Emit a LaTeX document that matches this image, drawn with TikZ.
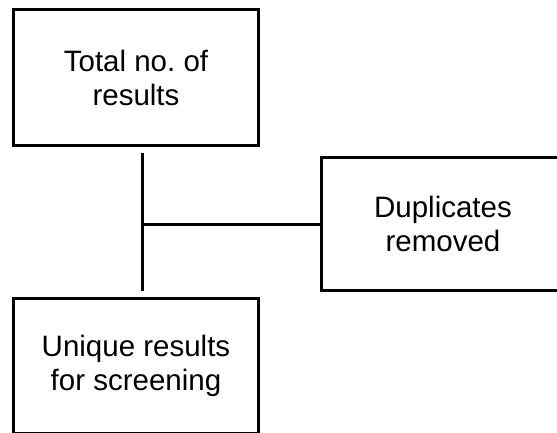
\documentclass[tikz,border=0pt]{standalone}
\usepackage{fontspec}
\setmainfont{Liberation Sans}
\usetikzlibrary{positioning}
\frenchspacing

\begin{document}
\begin{tikzpicture}[x=1pt, y=1pt,
        box/.style={draw, line width=3pt, align=center, inner sep=0pt,
          font=\fontsize{29.5}{34}\selectfont},
        link/.style={line width=3pt}]
        \clip (0,0) rectangle (557,-433);
        \node[box, minimum width=245pt, minimum height=136pt] (total) at (136,-77.5) {Total no. of\\results};
        \node[box, minimum width=245pt, minimum height=135pt] (unique) at (136,-366) {Unique results\\for screening};
        \node[box, minimum width=243pt, minimum height=133pt] (dup) at (443,-224) {Duplicates\\removed};
        % stem between the two left boxes
        \coordinate (upper) at ([xshift=6pt,yshift=-6.5pt]total.south);
        \coordinate (lower) at ([xshift=6pt,yshift=6.5pt]unique.north);
        \draw[link] (upper) -- (lower);
        \draw[link] (upper |- dup.west) -- (dup.west);
      \end{tikzpicture}
\end{document}
